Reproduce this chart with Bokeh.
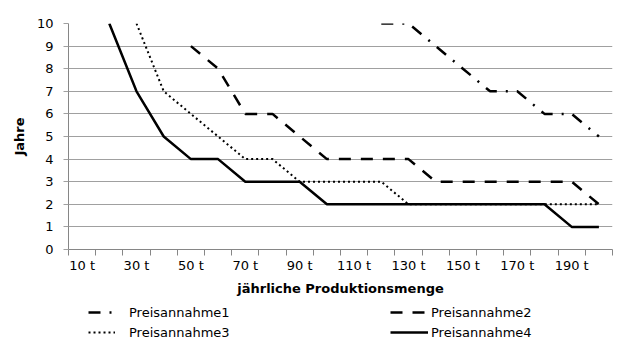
import numpy as np
from bokeh.plotting import figure
from bokeh.models import (Range1d, FixedTicker, PrintfTickFormatter, Legend,
                          LegendItem, LinearAxis)
from bokeh.layouts import column
from bokeh.embed import file_html
from bokeh.resources import INLINE

nan = np.nan

# --- data ---
menge = [10, 20, 30, 40, 50, 60, 70, 80, 90, 100,
         110, 120, 130, 140, 150, 160, 170, 180, 190, 200]
preisannahme1 = [nan, nan, nan, nan, nan, nan, nan, nan, nan, nan,
                 nan, 10, 10, 9, 8, 7, 7, 6, 6, 5]
preisannahme2 = [nan, nan, nan, nan, 9, 8, 6, 6, 5, 4,
                 4, 4, 4, 3, 3, 3, 3, 3, 3, 2]
preisannahme3 = [nan, nan, 10, 7, 6, 5, 4, 4, 3, 3,
                 3, 3, 2, 2, 2, 2, 2, 2, 2, 2]
preisannahme4 = [nan, 10, 7, 5, 4, 4, 3, 3, 3, 2,
                 2, 2, 2, 2, 2, 2, 2, 2, 1, 1]
series_names = ["Preisannahme1", "Preisannahme2", "Preisannahme3", "Preisannahme4"]
label_ticks = [10, 30, 50, 70, 90, 110, 130, 150, 170, 190]
boundaries = [5 + 10 * i for i in range(21)]
y_ticks = list(range(0, 11))

FONT = "DejaVu Sans"
GRID = "#a0a0a0"
AXIS = "#868686"

STYLES = [dict(line_color="black", line_width=2.5, line_dash="12 9 2 9"),
          dict(line_color="black", line_width=2.5, line_dash="12 10"),
          dict(line_color="black", line_width=2, line_dash="2 3"),
          dict(line_color="black", line_width=2.5)]

p = figure(width=630, height=300, output_backend="svg", toolbar_location=None,
           x_range=Range1d(5, 205), y_range=Range1d(0, 10),
           min_border_left=68, min_border_right=18, min_border_top=23,
           min_border_bottom=51)
p.outline_line_color = None
p.background_fill_color = "white"
p.border_fill_color = "white"

# x axis 1: tick marks at category boundaries, no labels
xa = p.xaxis[0]
xa.ticker = FixedTicker(ticks=boundaries)
xa.major_label_overrides = {b: "" for b in boundaries}
xa.major_tick_out = 6
xa.major_tick_in = 0
xa.minor_tick_out = 0
xa.minor_tick_in = 0
xa.major_tick_line_color = AXIS
xa.axis_line_color = AXIS
xa.major_label_text_font_size = "1px"
xa.major_label_standoff = 0

# x axis 2: category labels, no line / ticks
xl = LinearAxis(ticker=FixedTicker(ticks=label_ticks),
                formatter=PrintfTickFormatter(format="%d t"))
xl.axis_line_color = None
xl.major_tick_line_color = None
xl.minor_tick_line_color = None
xl.major_tick_out = 0
xl.major_tick_in = 0
xl.minor_tick_out = 0
xl.minor_tick_in = 0
xl.major_label_standoff = 2
xl.major_label_text_font = FONT
xl.major_label_text_font_size = "13px"
xl.major_label_text_color = "black"
xl.axis_label = "jährliche Produktionsmenge"
xl.axis_label_text_font = FONT
xl.axis_label_text_font_size = "13px"
xl.axis_label_text_font_style = "bold"
xl.axis_label_text_color = "black"
xl.axis_label_standoff = 5
p.add_layout(xl, "below")

# y axis
ya = p.yaxis[0]
ya.ticker = FixedTicker(ticks=y_ticks)
ya.major_tick_out = 5
ya.major_tick_in = 0
ya.minor_tick_out = 0
ya.minor_tick_in = 0
ya.major_tick_line_color = GRID
ya.axis_line_color = AXIS
ya.major_label_standoff = 10
ya.major_label_text_font = FONT
ya.major_label_text_font_size = "13px"
ya.major_label_text_color = "black"
ya.axis_label = "Jahre"
ya.axis_label_text_font = FONT
ya.axis_label_text_font_size = "13px"
ya.axis_label_text_font_style = "bold"
ya.axis_label_text_color = "black"
ya.axis_label_standoff = 7

p.xgrid.grid_line_color = None
p.ygrid.ticker = FixedTicker(ticks=y_ticks)
p.ygrid.grid_line_color = GRID
p.ygrid.grid_line_width = 1

series = [preisannahme1, preisannahme2, preisannahme3, preisannahme4]
for vals, st in zip(series, STYLES):
    p.line(menge, vals, **st)

# legend strip (separate figure without axes; its ranges keep the series
# out of view so only the legend samples show)
lf = figure(width=630, height=44, output_backend="svg", toolbar_location=None,
            x_range=Range1d(0, 1), y_range=Range1d(0, 1),
            x_axis_location=None, y_axis_location=None,
            min_border_left=0, min_border_right=0, min_border_top=0,
            min_border_bottom=0)
lf.grid.visible = False
lf.outline_line_color = None
lf.background_fill_color = "white"
lf.border_fill_color = "white"
lr = [lf.line(menge, vals, **st) for vals, st in zip(series, STYLES)]


def make_legend(idx, x, glyph_w, standoff):
    return Legend(items=[LegendItem(label=series_names[i], renderers=[lr[i]]) for i in idx],
                  location=(x, 4), orientation="vertical",
                  glyph_width=glyph_w, glyph_height=16, label_height=16,
                  label_standoff=standoff, spacing=4, padding=0, margin=0,
                  border_line_color=None, background_fill_alpha=0,
                  label_text_font=FONT, label_text_font_size="13px",
                  label_text_color="black")


lf.add_layout(make_legend([0, 2], 20, 27, 14))
lf.add_layout(make_legend([1, 3], 322, 38, 3))

layout = column(p, lf, spacing=0)
open("out.html", "w").write(file_html(layout, INLINE))
